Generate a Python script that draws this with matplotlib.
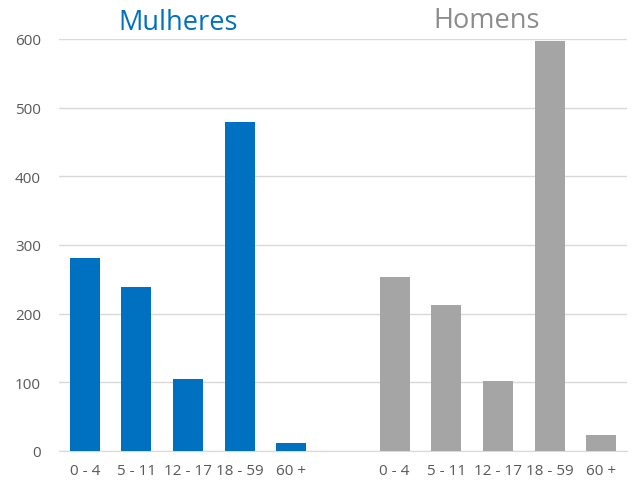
import matplotlib
matplotlib.use("Agg")
import matplotlib.pyplot as plt
import numpy as np

plt.rcParams['font.family'] = ['Open Sans', 'DejaVu Sans']

age_groups = ["0 - 4", "5 - 11", "12 - 17", "18 - 59", "60 +"]
mulheres = [281, 239, 105, 479, 12]
homens = [253, 213, 102, 597, 23]
group_titles = ["Mulheres", "Homens"]
yticks = [0, 100, 200, 300, 400, 500, 600]

blue = "#0070C0"
gray = "#A5A5A5"

fig = plt.figure(figsize=(6.33, 4.85), dpi=100)
ax = fig.add_axes([59/633, 1-452/485, (627-59)/633, (452-40)/485])

n = len(age_groups)
x_m = np.arange(n)
x_h = np.arange(n) + n + 1
ax.bar(x_m, mulheres, width=0.58, color=blue, zorder=3)
ax.bar(x_h, homens, width=0.58, color=gray, zorder=3)

ax.set_xlim(-0.5, 2*n + 0.5)
ax.set_ylim(0, 600)
ax.set_yticks(yticks)
ax.grid(axis='y', color='#D9D9D9', linewidth=1, zorder=0)
for s in ['top', 'right', 'left']:
    ax.spines[s].set_visible(False)
ax.spines['bottom'].set_color('#D9D9D9')
ax.set_xticks(list(x_m) + list(x_h))
ax.set_xticklabels(age_groups + age_groups)
ax.tick_params(axis='both', length=0, labelsize=11, labelcolor='#595959')
ax.tick_params(axis='x', pad=9)
ax.tick_params(axis='y', pad=13)

fig.text(178/633, 1-23/485, group_titles[0], color=blue, fontsize=19.5, ha='center', va='center')
fig.text(487/633, 1-21/485, group_titles[1], color='#8C8C8C', fontsize=19.5, ha='center', va='center')

fig.savefig("out.png", dpi=100)
